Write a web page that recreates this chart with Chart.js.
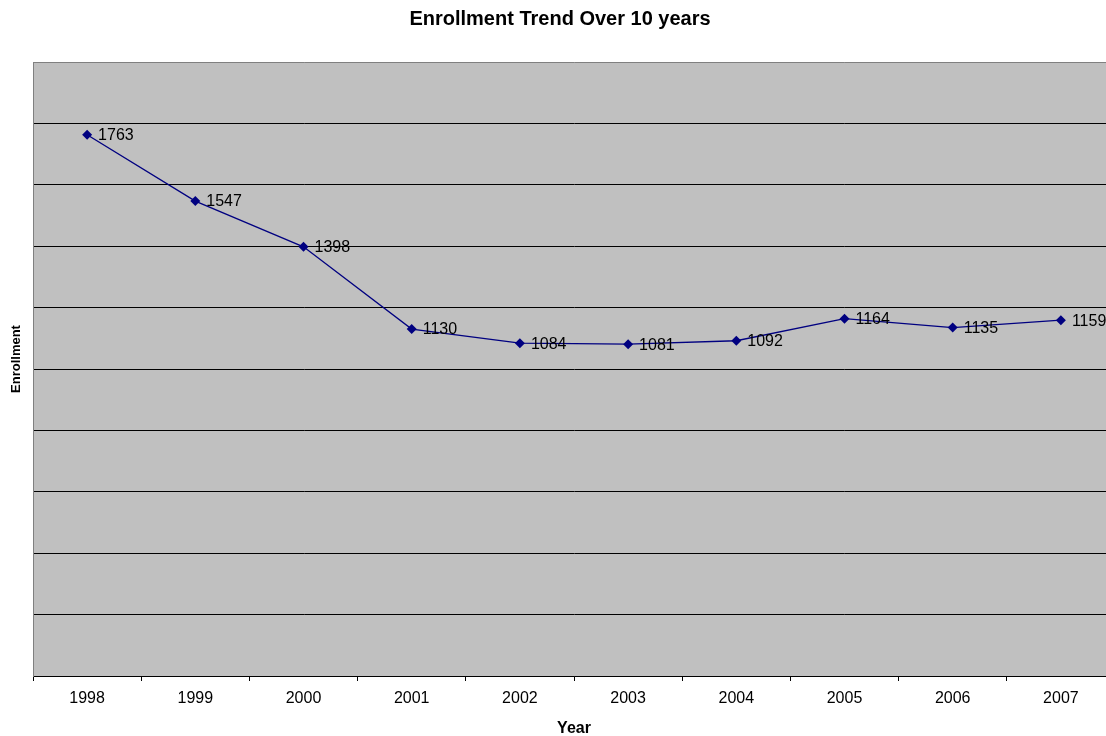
<!DOCTYPE html>
<html>
<head>
<meta charset="utf-8">
<script src="https://cdn.jsdelivr.net/npm/chart.js@4.4.1/dist/chart.umd.min.js"></script>
<style>
    html, body { margin: 0; padding: 0; background: #fff; overflow: hidden; }
    #wrap { width: 1120px; height: 736px; }
</style>
</head>
<body>
<div id="wrap"><canvas id="enrollment_chart" width="1120" height="736"></canvas></div>
<script>
const anos = ['1998', '1999', '2000', '2001', '2002', '2003', '2004', '2005', '2006', '2007'];
const matriculas = [1763, 1547, 1398, 1130, 1084, 1081, 1092, 1164, 1135, 1159];
const yMin = 0;
const yMax = 2000;
const yStep = 200;

const fonte = '"Liberation Sans", Arial, sans-serif';

// fundo cinza so dentro da area do grafico
const fundoPlot = {
    id: 'fundoPlot',
    beforeDraw(chart) {
        const { ctx, chartArea: a } = chart;
        ctx.save();
        ctx.fillStyle = '#c0c0c0';
        ctx.fillRect(a.left, a.top, a.right - a.left, a.bottom - a.top);
        ctx.restore();
    }
};

// rotulos com o valor ao lado de cada ponto
const rotulos = {
    id: 'rotulos',
    afterDatasetsDraw(chart) {
        const { ctx } = chart;
        const meta = chart.getDatasetMeta(0);
        ctx.save();
        ctx.font = '16px ' + fonte;
        ctx.fillStyle = '#000';
        ctx.textAlign = 'left';
        ctx.textBaseline = 'middle';
        meta.data.forEach((pt, i) => {
            ctx.fillText(String(matriculas[i]), pt.x + 11, pt.y + 1);
        });
        ctx.restore();
    }
};

// titulo do eixo y, um pouco acima do meio da area
const tituloY = {
    id: 'tituloY',
    afterDraw(chart) {
        const { ctx, chartArea: a } = chart;
        ctx.save();
        ctx.translate(16, (a.top + a.bottom) / 2 - 10);
        ctx.rotate(-Math.PI / 2);
        ctx.font = 'bold 13px ' + fonte;
        ctx.fillStyle = '#000';
        ctx.textAlign = 'center';
        ctx.textBaseline = 'middle';
        ctx.fillText('Enrollment', 0, 0);
        ctx.restore();
    }
};

const ctx = document.getElementById('enrollment_chart').getContext('2d');
new Chart(ctx, {
    type: 'line',
    data: {
        labels: anos,
        datasets: [{
            label: 'Enrollment',
            data: matriculas,
            borderColor: '#000080',
            borderWidth: 1.3,
            backgroundColor: '#000080',
            pointStyle: 'rectRot',
            pointRadius: 5,
            pointBackgroundColor: '#000080',
            pointBorderColor: '#000080',
            pointBorderWidth: 0,
            tension: 0,
            clip: false
        }]
    },
    options: {
        responsive: false,
        animation: false,
        layout: { padding: 0 },
        plugins: {
            legend: { display: false },
            tooltip: { enabled: false },
            title: {
                display: true,
                text: 'Enrollment Trend Over 10 years',
                color: '#000',
                font: { family: fonte, size: 20, weight: 'bold', lineHeight: 1.2 },
                padding: { top: 7, bottom: 31 }
            }
        },
        scales: {
            x: {
                offset: true,
                grid: {
                    offset: true,
                    drawOnChartArea: false,
                    drawTicks: true,
                    tickLength: 5,
                    tickColor: '#000',
                    color: '#000'
                },
                border: { color: '#000', width: 1 },
                ticks: {
                    color: '#000',
                    font: { family: fonte, size: 16 },
                    padding: 8,
                    maxRotation: 0
                },
                title: {
                    display: true,
                    text: 'Year',
                    color: '#000',
                    font: { family: fonte, size: 16, weight: 'bold', lineHeight: 1.2 },
                    padding: { top: 0, bottom: -2 }
                },
                afterFit(scale) { scale.height = 60; }
            },
            y: {
                min: yMin,
                max: yMax,
                ticks: { display: false, stepSize: yStep },
                grid: {
                    drawTicks: false,
                    color: c => (c.tick && c.tick.value === yMax ? '#808080' : '#000'),
                    lineWidth: 1
                },
                border: { color: '#808080', width: 1 },
                afterFit(scale) { scale.width = 33; }
            }
        }
    },
    plugins: [fundoPlot, rotulos, tituloY]
});
</script>
</body>
</html>
